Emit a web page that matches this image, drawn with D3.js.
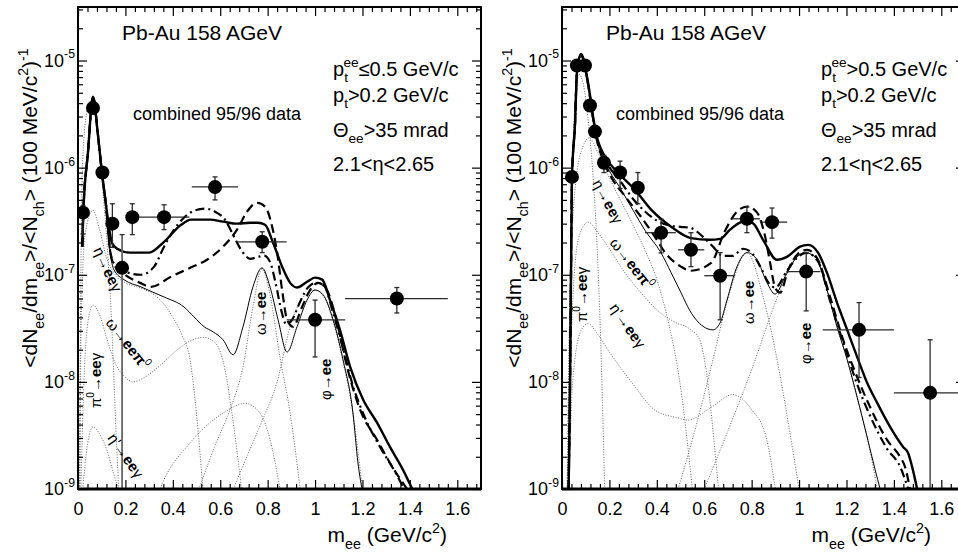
<!DOCTYPE html>
<html><head><meta charset="utf-8">
<script src="https://cdn.jsdelivr.net/npm/d3@7"></script>
<style>
body{margin:0;background:#fff}
svg{display:block}
text{font-family:"Liberation Sans",Arial,Helvetica,sans-serif;fill:#000}
</style></head>
<body><svg id="c" width="958" height="557"></svg>
<script>
// ---------- axis definitions ----------
const xMajorTicks = [0, 0.2, 0.4, 0.6, 0.8, 1, 1.2, 1.4, 1.6];
const xTickLabels = ["0", "0.2", "0.4", "0.6", "0.8", "1", "1.2", "1.4", "1.6"];
const yDecades = [1e-9, 1e-8, 1e-7, 1e-6, 1e-5];
const yTickLabels = ["-9", "-8", "-7", "-6", "-5"];

// ---------- LEFT panel (pt_ee <= 0.5) ----------
// data points: x, y, xlo, xhi, ylo, yhi
const leftData = [
  [0.021, 3.8e-7, 0.021, 0.021, 2.4e-7, 4.4e-7],
  [0.063, 3.6e-6, 0.063, 0.063, 3.3e-6, 3.9e-6],
  [0.103, 9.0e-7, 0.103, 0.103, 8.3e-7, 9.8e-7],
  [0.145, 3.0e-7, 0.145, 0.145, 1.8e-7, 4.6e-7],
  [0.186, 1.16e-7, 0.186, 0.186, 1e-10, 2.37e-7],
  [0.229, 3.45e-7, 0.229, 0.229, 2.37e-7, 4.6e-7],
  [0.363, 3.45e-7, 0.23, 0.47, 2.64e-7, 4.5e-7],
  [0.578, 6.6e-7, 0.48, 0.675, 5.0e-7, 8.2e-7],
  [0.777, 2.03e-7, 0.675, 0.88, 1.61e-7, 2.52e-7],
  [1.0, 3.8e-8, 0.88, 1.127, 1.71e-8, 5.8e-8],
  [1.345, 6.0e-8, 1.127, 1.56, 4.4e-8, 7.6e-8]
];
const leftTotalSolid = [
  [0.018,1.83e-7],[0.023,4.05e-7],[0.042,1.38e-6],[0.063,4.6e-6],[0.084,2.03e-6],[0.101,8.97e-7],
  [0.118,4.5e-7],[0.131,2.75e-7],[0.143,1.99e-7],[0.165,1.75e-7],[0.219,1.61e-7],[0.30,1.61e-7],
  [0.363,2.03e-7],[0.435,2.93e-7],[0.477,3.27e-7],[0.557,3.27e-7],[0.612,3.13e-7],[0.671,3.0e-7],
  [0.726,3.06e-7],[0.759,3.06e-7],[0.789,2.93e-7],[0.823,1.99e-7],[0.861,1.19e-7],[0.895,8.4e-8],
  [0.924,7.6e-8],[0.966,8.6e-8],[1.0,9.4e-8],[1.03,9.0e-8],[1.063,5.8e-8],[1.105,3.06e-8],
  [1.148,1.38e-8],[1.203,6.8e-9],[1.262,4.14e-9],[1.316,2.47e-9],[1.371,1.51e-9],[1.41,1e-9]
];
const leftDashed = [
  [0.018,1.83e-7],[0.023,4.05e-7],[0.042,1.38e-6],[0.063,4.6e-6],[0.084,2.03e-6],[0.101,8.97e-7],
  [0.118,4.5e-7],[0.135,1.71e-7],[0.152,1.24e-7],[0.198,1.0e-7],[0.262,8.4e-8],[0.308,7.7e-8],
  [0.392,9.6e-8],[0.473,1.16e-7],[0.544,1.38e-7],[0.612,1.83e-7],[0.671,2.64e-7],[0.713,3.88e-7],
  [0.755,4.7e-7],[0.789,4.33e-7],[0.819,2.81e-7],[0.84,1.61e-7],[0.861,7.2e-8],[0.882,3.8e-8],
  [0.907,3.27e-8],[0.945,5.0e-8],[0.979,7.2e-8],[1.013,8.4e-8],[1.05,7.2e-8],[1.093,3.56e-8],
  [1.135,1.38e-8],[1.19,5.5e-9],[1.262,2.87e-9],[1.316,1.75e-9],[1.388,1e-9]
];
const leftDashDot = [
  [0.018,1.83e-7],[0.023,4.05e-7],[0.042,1.38e-6],[0.063,4.6e-6],[0.084,2.03e-6],[0.101,8.97e-7],
  [0.118,4.5e-7],[0.135,1.71e-7],[0.152,1.27e-7],[0.181,1.11e-7],[0.266,1.0e-7],[0.321,1.19e-7],
  [0.363,1.83e-7],[0.405,2.64e-7],[0.447,3.41e-7],[0.489,3.96e-7],[0.536,4.14e-7],[0.578,3.88e-7],
  [0.62,3.27e-7],[0.654,2.37e-7],[0.688,1.71e-7],[0.726,1.41e-7],[0.76,1.47e-7],[0.785,1.51e-7],
  [0.81,1.32e-7],[0.835,8.1e-8],[0.857,4.7e-8],[0.878,3.48e-8],[0.903,3.8e-8],[0.937,5.6e-8],
  [0.97,7.6e-8],[1.004,8.4e-8],[1.038,7.9e-8],[1.076,4.4e-8],[1.114,2.22e-8],[1.156,9.8e-9],
  [1.211,4.6e-9],[1.274,2.47e-9],[1.338,1.44e-9],[1.376,1e-9]
];
const leftCocktail = [
  [0.018,1.83e-7],[0.023,4.05e-7],[0.042,1.38e-6],[0.063,4.55e-6],[0.084,2.0e-6],[0.101,8.9e-7],
  [0.118,4.4e-7],[0.135,1.65e-7],[0.152,1.11e-7],[0.194,9.0e-8],[0.266,7.7e-8],[0.321,6.8e-8],
  [0.363,6.2e-8],[0.447,5.0e-8],[0.489,4.05e-8],[0.532,3.27e-8],[0.57,2.93e-8],[0.612,2.47e-8],
  [0.654,1.79e-8],[0.696,3.27e-8],[0.738,7.7e-8],[0.776,1.16e-7],[0.81,7.7e-8],[0.844,3.8e-8],
  [0.882,1.9e-8],[0.924,3.27e-8],[0.966,5.8e-8],[1.0,7.2e-8],[1.034,6.5e-8],[1.076,3.8e-8],
  [1.118,1.61e-8],[1.16,5.1e-9],[1.181,1.75e-9],[1.198,1e-9]
];
const leftPi0 = [[0.006,1e-9],[0.012,1e-7],[0.02,1.2e-6],[0.04,3.5e-6],[0.063,4.4e-6],[0.085,1.9e-6],
  [0.1,8e-7],[0.115,3.3e-7],[0.13,1.1e-7],[0.142,3.5e-8],[0.152,1e-8],[0.163,2.5e-9],[0.172,1e-9]];
const leftEta = [[0.008,1e-9],[0.013,3e-8],[0.03,2.4e-7],[0.063,4.0e-7],[0.09,2.7e-7],[0.12,1.45e-7],
  [0.152,1.04e-7],[0.2,8.4e-8],[0.266,7.5e-8],[0.321,6.5e-8],[0.36,5.4e-8],[0.4,4.0e-8],[0.44,2.7e-8],
  [0.473,1.6e-8],[0.5,5e-9],[0.527,1e-9]];
const leftOmegaDalitz = [[0.012,1e-9],[0.025,1e-8],[0.045,4e-8],[0.063,5.2e-8],[0.09,4.3e-8],[0.12,2.6e-8],
  [0.16,1.45e-8],[0.2,1.1e-8],[0.232,1.0e-8],[0.28,1.1e-8],[0.35,1.45e-8],[0.42,2.0e-8],[0.48,2.45e-8],
  [0.53,2.6e-8],[0.58,2.3e-8],[0.62,1.3e-8],[0.65,5e-9],[0.69,1e-9]];
const leftEtaPrime = [[0.02,1e-9],[0.04,2.6e-9],[0.063,3.8e-9],[0.09,3.3e-9],[0.122,2.3e-9],[0.15,1.4e-9],
  [0.17,1e-9],[0.2,5e-10],[0.3,5e-10],[0.346,1e-9],[0.473,2.7e-9],[0.612,5.1e-9],[0.705,6.3e-9],
  [0.768,5.1e-9],[0.81,2.9e-9],[0.852,1e-9]];
const leftOmega = [[0.51,1e-9],[0.58,2.6e-9],[0.641,5.5e-9],[0.696,1.38e-8],[0.738,5e-8],[0.776,1.13e-7],
  [0.81,6.5e-8],[0.852,1.7e-8],[0.895,5.1e-9],[0.937,1e-9]];
const leftPhi = [[0.655,1e-9],[0.72,2.2e-9],[0.78,4.5e-9],[0.84,1.0e-8],[0.895,3.3e-8],[0.95,6.2e-8],
  [1.0,7.2e-8],[1.034,6.4e-8],[1.076,3.7e-8],[1.118,1.55e-8],[1.16,5e-9],[1.2,1e-9]];

// ---------- RIGHT panel (pt_ee > 0.5) ----------
const rightData = [
  [0.042, 8.2e-7, 0.042, 0.042, 7.6e-7, 8.8e-7],
  [0.063, 9.0e-6, 0.063, 0.063, 8.6e-6, 9.4e-6],
  [0.097, 9.0e-6, 0.097, 0.097, 8.6e-6, 9.4e-6],
  [0.118, 3.8e-6, 0.118, 0.118, 3.6e-6, 4.0e-6],
  [0.139, 2.17e-6, 0.139, 0.139, 2.05e-6, 2.3e-6],
  [0.177, 1.11e-6, 0.177, 0.177, 9.0e-7, 1.3e-6],
  [0.245, 9.0e-7, 0.245, 0.245, 6.4e-7, 1.15e-6],
  [0.32, 6.5e-7, 0.32, 0.32, 4.6e-7, 9.0e-7],
  [0.418, 2.47e-7, 0.35, 0.48, 1.6e-7, 3.3e-7],
  [0.544, 1.71e-7, 0.49, 0.60, 1.19e-7, 2.47e-7],
  [0.667, 9.8e-8, 0.60, 0.73, 3.8e-8, 1.61e-7],
  [0.78, 3.33e-7, 0.72, 0.835, 2.47e-7, 4.3e-7],
  [0.886, 3.1e-7, 0.835, 0.95, 2.2e-7, 4.2e-7],
  [1.03, 1.07e-7, 0.95, 1.09, 4.6e-8, 1.61e-7],
  [1.253, 3.06e-8, 1.10, 1.40, 1.1e-8, 5.5e-8],
  [1.553, 7.9e-9, 1.40, 1.70, 1e-10, 2.47e-8]
];
const rightTotalSolid = [
  [0.028,1e-9],[0.034,1e-8],[0.038,1e-7],[0.042,8e-7],[0.055,2.6e-6],[0.063,7.7e-6],[0.08,1.15e-5],
  [0.11,6.2e-6],[0.131,3.0e-6],[0.143,2.12e-6],[0.181,1.27e-6],[0.236,9.0e-7],[0.308,6.2e-7],
  [0.376,4.05e-7],[0.46,2.81e-7],[0.544,2.2e-7],[0.624,2.12e-7],[0.667,2.16e-7],[0.709,2.64e-7],
  [0.764,3.13e-7],[0.802,3.06e-7],[0.848,2.12e-7],[0.907,1.38e-7],[0.949,1.47e-7],[1.004,1.83e-7],
  [1.038,1.9e-7],[1.08,1.61e-7],[1.118,1.04e-7],[1.16,5.5e-8],[1.203,3.06e-8],[1.245,1.71e-8],
  [1.287,9.8e-9],[1.329,6.4e-9],[1.384,3.8e-9],[1.439,2.47e-9],[1.46,2.17e-9],[1.477,1.61e-9],[1.498,1e-9]
];
const rightDashed = [
  [0.028,1e-9],[0.034,1e-8],[0.038,1e-7],[0.042,8e-7],[0.055,2.6e-6],[0.063,7.7e-6],[0.08,1.12e-5],
  [0.11,6.0e-6],[0.131,2.9e-6],[0.143,2.0e-6],[0.175,1.15e-6],[0.207,8.2e-7],[0.266,5.4e-7],
  [0.333,3.48e-7],[0.392,2.26e-7],[0.435,1.61e-7],[0.502,1.19e-7],[0.544,1.09e-7],[0.629,1.29e-7],
  [0.685,2.5e-7],[0.738,3.88e-7],[0.781,4.33e-7],[0.823,3.8e-7],[0.857,2.26e-7],[0.878,1.29e-7],
  [0.899,7.6e-8],[0.92,6.8e-8],[0.954,1.11e-7],[0.992,1.54e-7],[1.034,1.71e-7],[1.08,1.38e-7],
  [1.131,6.2e-8],[1.186,2.47e-8],[1.245,1.11e-8],[1.3,5.8e-9],[1.371,2.87e-9],[1.426,2.0e-9],
  [1.447,1.61e-9],[1.468,1e-9]
];
const rightDashDot = [
  [0.028,1e-9],[0.034,1e-8],[0.038,1e-7],[0.042,8e-7],[0.055,2.6e-6],[0.063,7.7e-6],[0.08,1.12e-5],
  [0.11,6.0e-6],[0.131,2.9e-6],[0.143,2.05e-6],[0.18,1.22e-6],[0.25,7.3e-7],[0.3,5.1e-7],
  [0.35,3.9e-7],[0.4,3.2e-7],[0.45,2.9e-7],[0.5,2.8e-7],[0.54,2.75e-7],[0.595,2.26e-7],[0.637,1.83e-7],
  [0.679,1.5e-7],[0.72,1.5e-7],[0.764,1.75e-7],[0.8,1.6e-7],[0.84,1.15e-7],[0.87,8.5e-8],[0.9,7.6e-8],
  [0.95,1.1e-7],[1.0,1.5e-7],[1.03,1.6e-7],[1.08,1.33e-7],[1.13,5.8e-8],[1.19,2.2e-8],[1.245,9.5e-9],
  [1.3,4.8e-9],[1.37,2.4e-9],[1.43,1.55e-9],[1.46,1e-9]
];
const rightCocktail = [
  [0.028,1e-9],[0.034,1e-8],[0.038,1e-7],[0.042,8e-7],[0.055,2.6e-6],[0.063,7.7e-6],[0.08,1.1e-5],
  [0.11,5.9e-6],[0.131,2.8e-6],[0.143,1.95e-6],[0.18,1.15e-6],[0.25,6.2e-7],[0.3,4.0e-7],
  [0.35,2.6e-7],[0.418,1.6e-7],[0.46,1.05e-7],[0.502,6.8e-8],[0.54,4.6e-8],[0.595,3.3e-8],
  [0.637,3.06e-8],[0.667,3.56e-8],[0.696,5.8e-8],[0.738,1.19e-7],[0.781,1.61e-7],[0.823,1.38e-7],
  [0.865,8.4e-8],[0.899,6.6e-8],[0.941,9.6e-8],[0.992,1.47e-7],[1.025,1.61e-7],[1.068,1.47e-7],
  [1.118,7.2e-8],[1.16,3.27e-8],[1.203,1.61e-8],[1.245,7.2e-9],[1.287,3.06e-9],[1.321,1.51e-9],[1.342,1e-9]
];
const rightPi0 = [[0.022,1e-9],[0.035,1e-7],[0.05,2.5e-6],[0.07,7.5e-6],[0.09,6e-6],[0.11,2.8e-6],
  [0.13,9e-7],[0.145,2.5e-7],[0.16,4e-8],[0.172,5e-9],[0.18,1e-9]];
const rightEta = [[0.022,1e-9],[0.035,8e-8],[0.06,8e-7],[0.09,1.6e-6],[0.115,1.9e-6],[0.15,1.4e-6],
  [0.2,8e-7],[0.25,4.8e-7],[0.3,2.9e-7],[0.35,1.7e-7],[0.4,9e-8],[0.45,3.5e-8],[0.5,9e-9],[0.55,1e-9]];
const rightOmegaDalitz = [[0.025,1e-9],[0.04,3e-8],[0.07,2.2e-7],[0.11,3.1e-7],[0.15,2.5e-7],[0.194,1.83e-7],
  [0.266,1.04e-7],[0.333,6.8e-8],[0.405,4.6e-8],[0.477,3.6e-8],[0.54,3.1e-8],[0.58,2.5e-8],[0.61,1.2e-8],
  [0.64,3e-9],[0.66,1e-9]];
const rightEtaPrime = [[0.028,1e-9],[0.045,1e-8],[0.08,3.0e-8],[0.11,3.5e-8],[0.15,2.8e-8],[0.2,1.9e-8],
  [0.3,9.5e-9],[0.39,5.5e-9],[0.49,4.6e-9],[0.53,4.4e-9],[0.63,5.8e-9],[0.72,7.6e-9],[0.8,5.5e-9],
  [0.86,3.1e-9],[0.9,1e-9]];
const rightOmega = [[0.49,1e-9],[0.56,3.5e-9],[0.63,1.4e-8],[0.7,6e-8],[0.781,1.6e-7],[0.85,6e-8],
  [0.91,1.5e-8],[0.96,3.5e-9],[1.0,1e-9]];
const rightPhi = [[0.6,1e-9],[0.7,3.5e-9],[0.8,1.3e-8],[0.9,5.5e-8],[0.97,1.3e-7],[1.025,1.6e-7],
  [1.07,1.42e-7],[1.118,7.2e-8],[1.16,3.27e-8],[1.203,1.61e-8],[1.245,7.2e-9],[1.287,3.06e-9],[1.33,1e-9]];

// ---------- text ----------
const fontFamily = '"Liberation Sans",Arial,Helvetica,sans-serif';

const svg = d3.select("#c");

function rich(t, parts, fs) {
  let cur = 0;
  parts.forEach(p => {
    const s = p[0], m = p[1] || "n", dx = p[2] || 0;
    let off = 0, size = fs, bold = false;
    if (m === "sub") { off = fs * 0.32; size = fs * 0.68; }
    else if (m === "sup") { off = -fs * 0.45; size = fs * 0.68; }
    else if (m === "b") { bold = true; }
    const ts = t.append("tspan").text(s).attr("font-size", size).attr("dy", off - cur);
    if (dx) ts.attr("dx", dx);
    if (bold) ts.attr("font-weight", "bold");
    cur = off;
  });
}

function panel(cfg) {
  const g = svg.append("g");
  const x = d3.scaleLinear().domain([0, 1.7]).range([cfg.x0, cfg.x0 + 403]);
  const y = d3.scaleLog().domain([1e-9, 3.16e-5]).range([489, 7]);
  const clipId = "clip" + cfg.id;
  svg.append("clipPath").attr("id", clipId).append("rect")
    .attr("x", cfg.x0).attr("y", 7).attr("width", 403).attr("height", 482);
  const plot = g.append("g").attr("clip-path", `url(#${clipId})`);

  const line = d3.line().x(d => x(d[0])).y(d => y(Math.max(d[1], 1e-11))).curve(d3.curveMonotoneX);

  // dotted cocktail components
  cfg.dotted.forEach(arr => {
    plot.append("path").attr("d", line(arr)).attr("fill", "none")
      .attr("stroke", "#6a6a6a").attr("stroke-width", 1).attr("stroke-dasharray", "1,1.6");
  });
  // thin solid cocktail sum
  plot.append("path").attr("d", line(cfg.cocktail)).attr("fill", "none")
    .attr("stroke", "#000").attr("stroke-width", 1);
  // thick models
  plot.append("path").attr("d", line(cfg.dashDot)).attr("fill", "none")
    .attr("stroke", "#000").attr("stroke-width", 2.2).attr("stroke-dasharray", "9,4,2,4");
  plot.append("path").attr("d", line(cfg.dashed)).attr("fill", "none")
    .attr("stroke", "#000").attr("stroke-width", 2.2).attr("stroke-dasharray", "9,5");
  plot.append("path").attr("d", line(cfg.solid)).attr("fill", "none")
    .attr("stroke", "#000").attr("stroke-width", 2.4);

  // data: error bars
  const eb = plot.append("g").attr("stroke", "#2a2a2a").attr("stroke-width", 1.3);
  cfg.data.forEach(d => {
    const cx = x(d[0]), cy = y(d[1]);
    if (d[3] > d[2]) eb.append("line").attr("x1", x(d[2])).attr("x2", x(d[3])).attr("y1", cy).attr("y2", cy);
    const v = eb.append("line").attr("x1", cx).attr("x2", cx).attr("y1", y(d[4])).attr("y2", y(d[5]));
    if (d[4] < 1e-9) v.attr("stroke", "#666").attr("stroke-width", 1.8);
    [d[4], d[5]].forEach(val => {
      if (val > 1e-9) eb.append("line").attr("x1", cx - 2.5).attr("x2", cx + 2.5).attr("y1", y(val)).attr("y2", y(val));
    });
  });
  plot.append("g").selectAll("circle").data(cfg.data).join("circle")
    .attr("cx", d => x(d[0])).attr("cy", d => y(d[1])).attr("r", 7).attr("fill", "#000");

  // axes (ticks inside, ROOT style)
  const xMinor = d3.range(0, 1.7001, 0.04).filter(v => !xMajorTicks.some(m => Math.abs(m - v) < 1e-6));
  const yMinor = [];
  for (let e = -9; e <= -5; e++) for (let k = 2; k <= 9; k++) { const v = k * Math.pow(10, e); if (v < 3.16e-5) yMinor.push(v); }

  const ax = g.append("g");
  const axB = ax.append("g").attr("transform", "translate(0,489)")
    .call(d3.axisBottom(x).tickValues(xMajorTicks).tickSize(-9).tickPadding(13).tickFormat((d, i) => xTickLabels[i]));
  ax.append("g").attr("transform", "translate(0,489)")
    .call(d3.axisBottom(x).tickValues(xMinor).tickSize(-5).tickFormat(""));
  ax.append("g").attr("transform", "translate(0,7)")
    .call(d3.axisTop(x).tickValues(xMajorTicks).tickSize(-9).tickFormat(""));
  ax.append("g").attr("transform", "translate(0,7)")
    .call(d3.axisTop(x).tickValues(xMinor).tickSize(-5).tickFormat(""));
  ax.append("g").attr("transform", `translate(${cfg.x0},0)`)
    .call(d3.axisLeft(y).tickValues(yDecades).tickSize(-9).tickFormat(""));
  ax.append("g").attr("transform", `translate(${cfg.x0},0)`)
    .call(d3.axisLeft(y).tickValues(yMinor).tickSize(-5).tickFormat(""));
  ax.append("g").attr("transform", `translate(${cfg.x0 + 403},0)`)
    .call(d3.axisRight(y).tickValues(yDecades).tickSize(-9).tickFormat(""));
  ax.append("g").attr("transform", `translate(${cfg.x0 + 403},0)`)
    .call(d3.axisRight(y).tickValues(yMinor).tickSize(-5).tickFormat(""));
  ax.selectAll(".domain").remove();
  ax.selectAll(".tick line").attr("stroke", "#000").attr("stroke-width", 1.2);
  axB.selectAll(".tick text").attr("font-size", 18).attr("font-family", fontFamily).attr("fill", "#000");

  // y decade labels
  yDecades.forEach((v, i) => {
    const t = g.append("text").attr("x", cfg.x0 - 3).attr("y", y(v) + 6).attr("text-anchor", "end");
    rich(t, [["10"], [yTickLabels[i], "sup"]], 18);
  });

  // frame
  g.append("rect").attr("x", cfg.x0).attr("y", 7).attr("width", 403).attr("height", 482)
    .attr("fill", "none").attr("stroke", "#000").attr("stroke-width", 2);
  g.append("line").attr("x1", cfg.x0).attr("x2", cfg.x0 + 403).attr("y1", 489).attr("y2", 489)
    .attr("stroke", "#000").attr("stroke-width", 3);

  // axis titles
  const yt = g.append("text").attr("transform", `translate(${cfg.x0 - 41},208) rotate(-90)`).attr("text-anchor", "middle");
  rich(yt, [["<dN"], ["ee", "sub"], ["/dm"], ["ee", "sub"], [">/<N"], ["ch", "sub"], ["> (100 MeV/c"], ["2", "sup"], [")"], ["-1", "sup"]], 21);
  const xt = g.append("text").attr("x", cfg.x0 + 369).attr("y", 542).attr("text-anchor", "end");
  rich(xt, [["m"], ["ee", "sub"], [" (GeV/c"], ["2", "sup"], [")"]], 21);

  // annotations
  g.append("text").attr("x", cfg.x0 + 44).attr("y", 40).attr("font-size", 21).text("Pb-Au 158 AGeV");
  g.append("text").attr("x", cfg.x0 + cfg.combDx).attr("y", 120).attr("font-size", 18).text("combined 95/96 data");
  const tx = cfg.x0 + cfg.txtDx;
  const t1 = g.append("text").attr("x", tx).attr("y", 76);
  rich(t1, [["p"], ["t", "sub"], ["ee", "sup", -4.5], [cfg.ptCut]], 20);
  const t2 = g.append("text").attr("x", tx).attr("y", 102);
  rich(t2, [["p"], ["t", "sub"], [">0.2 GeV/c"]], 20);
  const t3 = g.append("text").attr("x", tx).attr("y", 137);
  rich(t3, [["Θ"], ["ee", "sub"], [">35 mrad"]], 20);
  g.append("text").attr("x", tx).attr("y", 171).attr("font-size", 20).text("2.1<η<2.65");

  // curve labels
  const lab = g.append("g").attr("clip-path", `url(#${clipId})`);
  cfg.labels.forEach(L => {
    const t = lab.append("text").attr("transform", `translate(${L.x},${L.y}) rotate(${L.r})`);
    rich(t, L.parts, 15);
  });
}

const lblEta = [["η"], ["→"], ["ee", "b"], ["γ"]];
const lblOmD = [["ω"], ["→"], ["eeπ", "b"], ["0", "sup"]];
const lblPi0 = [["π"], ["0", "sup"], ["→"], ["ee", "b"], ["γ"]];
const lblEtaP = [["η'"], ["→"], ["ee", "b"], ["γ"]];
const lblOm = [["ω"], ["→"], ["ee", "b"]];
const lblPhi = [["φ"], ["→"], ["ee", "b"]];

panel({
  id: "L", x0: 78, combDx: 55, txtDx: 255, ptCut: "≤0.5 GeV/c",
  data: leftData, solid: leftTotalSolid, dashed: leftDashed, dashDot: leftDashDot, cocktail: leftCocktail,
  dotted: [leftPi0, leftEta, leftOmegaDalitz, leftEtaPrime, leftOmega, leftPhi],
  labels: [
    {x: 93, y: 250, r: 65, parts: lblEta},
    {x: 105, y: 323, r: 52, parts: lblOmD},
    {x: 101, y: 408, r: -90, parts: lblPi0},
    {x: 107, y: 438, r: 55, parts: lblEtaP},
    {x: 266, y: 335, r: -90, parts: lblOm},
    {x: 331, y: 400, r: -90, parts: lblPhi}
  ]
});
panel({
  id: "R", x0: 562, combDx: 54, txtDx: 259, ptCut: ">0.5 GeV/c",
  data: rightData, solid: rightTotalSolid, dashed: rightDashed, dashDot: rightDashDot, cocktail: rightCocktail,
  dotted: [rightPi0, rightEta, rightOmegaDalitz, rightEtaPrime, rightOmega, rightPhi],
  labels: [
    {x: 592, y: 183, r: 62, parts: lblEta},
    {x: 609, y: 243, r: 52, parts: lblOmD},
    {x: 587, y: 322, r: -90, parts: lblPi0},
    {x: 609, y: 308, r: 55, parts: lblEtaP},
    {x: 754, y: 324, r: -90, parts: lblOm},
    {x: 811, y: 364, r: -90, parts: lblPhi}
  ]
});
</script>
</body></html>
